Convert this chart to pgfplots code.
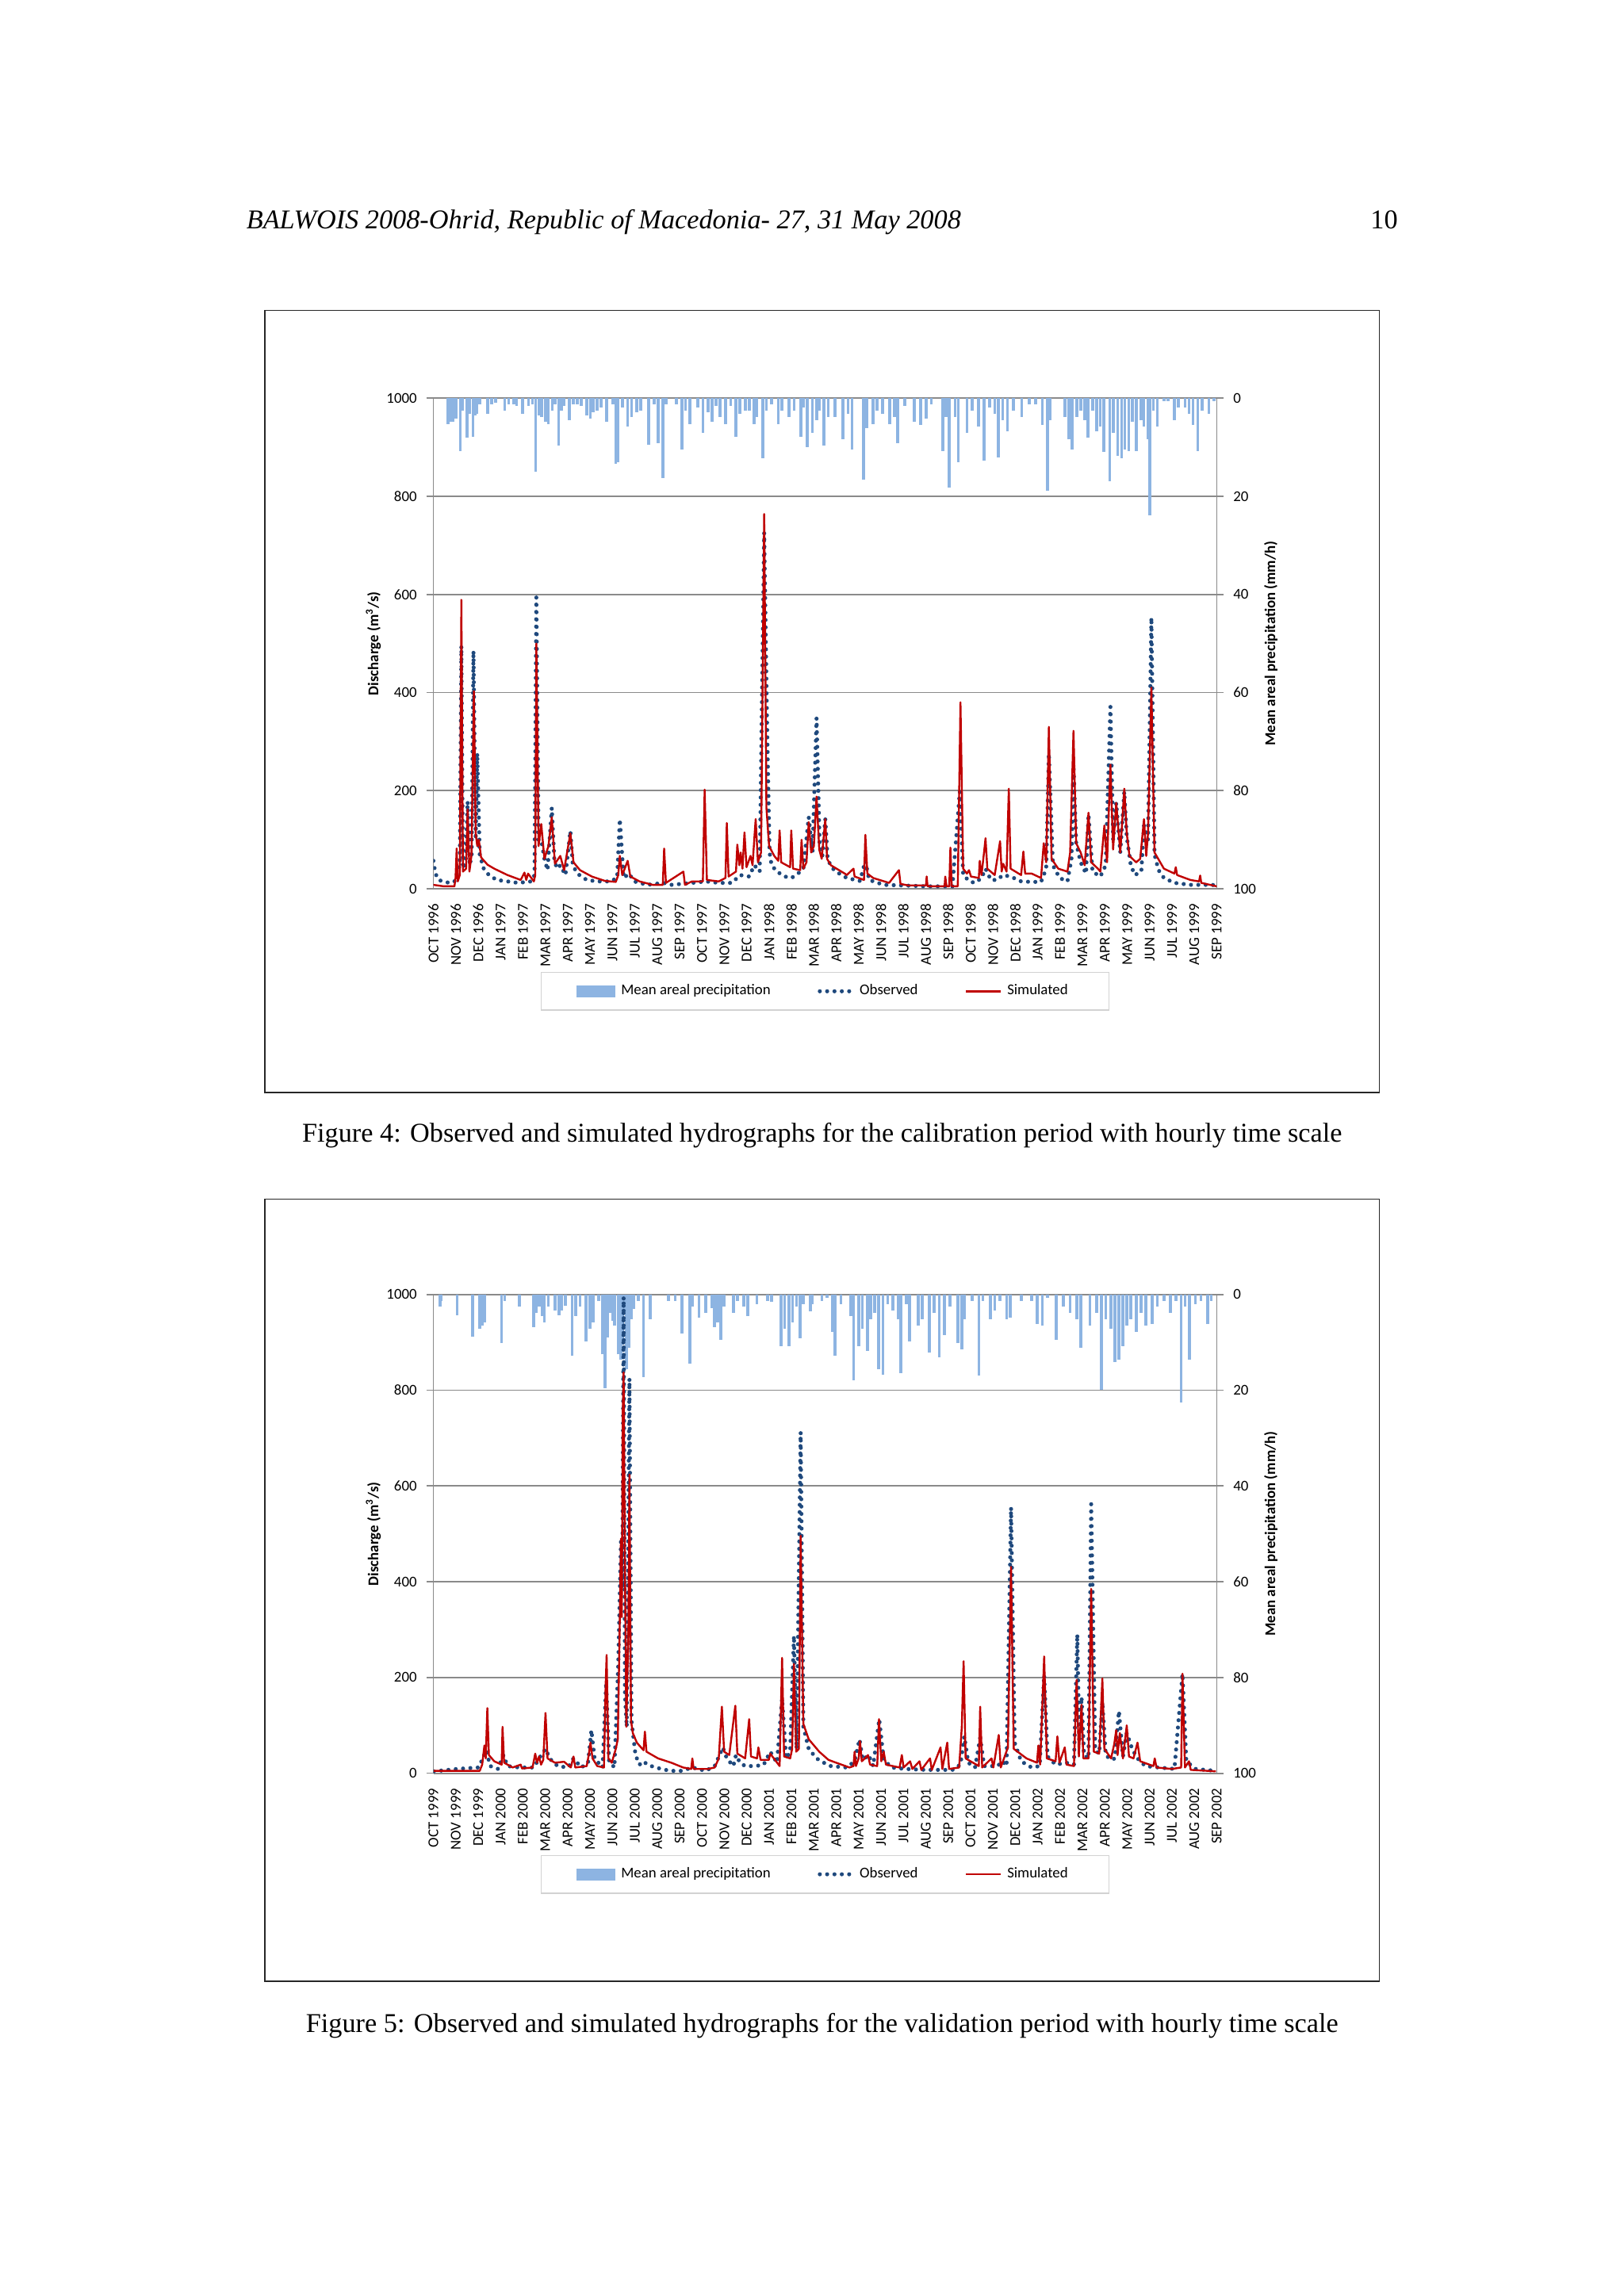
\documentclass[border=0pt]{standalone}
\usepackage{fontspec}
\setmainfont{Liberation Serif}
\newfontfamily\chartfont{Carlito}
\usepackage{pgfplots}
\pgfplotsset{compat=1.18}
\definecolor{precip}{HTML}{8DB4E2}
\definecolor{obs}{HTML}{1F497D}
\definecolor{sim}{HTML}{C00000}
\definecolor{gridc}{HTML}{8A8A8A}
\newcommand\cf{\chartfont\fontsize{5.5}{6.6}\selectfont}
\tikzset{
  obsline/.style={color=obs, line width=1.5pt, dash pattern=on 0pt off 2.7pt, line cap=round},
  simline/.style={color=sim, line width=0.7pt, line join=round},
}
\pgfplotsset{
  hyd/.style={width=101.31mm, scale only axis, xmin=0, xmax=35, anchor=south west,
    axis line style={gridc, line width=0.5pt}, tick style={gridc, line width=0.5pt},
    tick align=outside, major tick length=0.9mm,
    yticklabel style={font=\cf, /pgf/number format/assume math mode=true, /pgf/number format/1000 sep={}},
    ylabel style={font=\cf}},
  precipax/.style={hyd, y dir=reverse, ymin=0, ymax=100, ytick={0,20,...,100},
    axis y line*=right, axis x line=none, xtick=\empty,
    ymajorgrids, major grid style={gridc, line width=0.5pt},
    ylabel={\bfseries Mean areal precipitation (mm/h)},
    ylabel style={at={(axis description cs:1.069,0.5)}, anchor=center}},
  dischax/.style={hyd, ymin=0, ymax=1000, ytick={0,200,...,1000},
    axis y line*=left, axis x line*=bottom, xtick={0,...,35}, xtick style={draw=none},
    xticklabel style={font=\cf, rotate=90, anchor=east, inner xsep=1.0mm, inner ysep=0pt},
    ylabel={\bfseries Discharge (m\textsuperscript{3}/s)},
    ylabel style={at={(axis description cs:-0.0766,0.5)}, anchor=center},
    legend style={anchor=center, draw=gray!35, font=\cf, legend columns=3,
      inner xsep=4.6mm, inner ysep=0.8mm,
      /tikz/every even column/.append style={column sep=5.4mm}},
    legend cell align=left},
}
\begin{document}
\begin{tikzpicture}
\path[fill=white] (0,0) rectangle (210mm,297mm);
% header
\node[anchor=base west, inner sep=0, font=\itshape] at (31.81mm,267.45mm) {BALWOIS 2008-Ohrid, Republic of Macedonia- 27, 31 May 2008};
\node[anchor=base east, inner sep=0] at (180.84mm,267.45mm) {10};
% frames
\draw[line width=0.5pt, black!85] (34.27mm,155.70mm) rectangle (178.38mm,256.85mm);
\draw[line width=0.5pt, black!85] (34.27mm,40.73mm) rectangle (178.38mm,141.87mm);
% captions
\node[anchor=base, inner sep=0] at (106.33mm,149.26mm) {Figure 4: Observed and simulated hydrographs for the calibration period with hourly time scale};
\node[anchor=base, inner sep=0] at (106.33mm,34.10mm) {Figure 5: Observed and simulated hydrographs for the validation period with hourly time scale};

%================ FIGURE 4 ================
\begin{axis}[precipax, at={(56.05mm,182.03mm)}, height=63.45mm]
\addplot[ycomb, draw=precip, line width=1.05pt] coordinates {
(0.65,5.2)(0.77,4.8)(0.89,4.8)(1.00,4.2)(1.20,10.7)(1.30,2.5)(1.51,8.1)(1.63,3.2)(1.77,7.8)(1.87,3.5)(1.95,3.2)(2.07,1.2)(2.42,3.2)(2.60,1.2)(2.77,0.9)(3.19,2.5)(3.36,1.2)(3.60,1.2)(3.72,1.6)(3.99,3.2)(4.25,1.6)(4.43,1.2)(4.57,14.9)(4.72,3.5)(4.84,3.8)(5.02,4.8)(5.14,5.2)(5.31,2.5)(5.43,1.2)(5.60,9.7)(5.73,2.5)(5.84,1.6)(6.08,4.5)(6.26,1.2)(6.43,1.2)(6.61,1.6)(6.85,3.5)(7.02,4.2)(7.14,2.9)(7.32,2.5)(7.50,1.9)(7.73,4.8)(8.03,1.2)(8.15,13.3)(8.26,13.0)(8.44,1.9)(8.68,5.8)(8.85,3.8)(9.09,2.9)(9.27,2.5)(9.62,9.4)(9.86,1.2)(10.04,9.1)(10.25,16.2)(10.39,1.2)(10.86,1.2)(11.10,10.4)(11.27,2.5)(11.45,5.2)(11.81,1.9)(12.04,7.1)(12.28,2.9)(12.46,4.8)(12.63,1.6)(12.81,3.8)(13.05,5.2)(13.28,1.6)(13.52,7.8)(13.70,3.2)(13.93,2.5)(14.11,2.5)(14.34,5.2)(14.46,3.8)(14.72,12.3)(14.88,2.5)(15.11,1.2)(15.41,5.2)(15.58,2.5)(15.88,3.8)(16.12,2.5)(16.41,7.8)(16.53,1.9)(16.71,10.0)(16.94,7.1)(17.12,4.5)(17.24,2.5)(17.45,9.7)
(17.64,3.8)(17.94,3.8)(18.29,8.4)(18.53,3.2)(18.71,10.4)(19.21,16.6)(19.36,6.1)(19.65,5.2)(19.83,2.5)(20.06,3.2)(20.38,5.2)(20.60,3.8)(20.75,9.1)(21.07,1.6)(21.48,4.8)(21.78,5.5)(22.01,4.2)(22.25,1.2)(22.76,10.7)(22.90,3.8)(23.05,18.2)(23.31,3.8)(23.46,13.0)(23.84,7.1)(24.08,2.5)(24.35,5.8)(24.61,12.7)(24.85,1.9)(25.08,3.2)(25.24,12.0)(25.44,4.5)(25.65,6.8)(25.91,2.5)(26.29,3.8)(26.62,1.2)(26.91,1.2)(27.21,5.5)(27.44,18.9)(27.56,4.5)(28.21,3.8)(28.39,8.4)(28.54,10.4)(28.74,3.8)(28.92,2.5)(29.10,4.5)(29.24,8.1)(29.45,2.5)(29.63,6.8)(29.80,5.8)(29.96,11.0)(30.22,16.9)(30.39,7.1)(30.57,11.7)(30.75,12.3)(30.89,10.4)(31.07,10.7)(31.22,4.8)(31.40,10.7)(31.63,4.5)(31.75,5.8)(31.93,8.4)(32.02,23.8)(32.17,2.5)(32.34,5.8)(32.64,0.6)(32.82,0.6)(33.11,4.5)(33.29,1.9)(33.58,1.9)(33.76,3.2)(33.94,5.5)(34.15,10.7)(34.35,2.5)(34.65,3.2)(34.88,0.6)
};
\end{axis}
\begin{axis}[dischax, at={(56.05mm,182.03mm)}, height=63.45mm,
  legend style={at={(0.5,-0.209)}},
  xticklabels={OCT 1996,NOV 1996,DEC 1996,JAN 1997,FEB 1997,MAR 1997,APR 1997,MAY 1997,JUN 1997,JUL 1997,AUG 1997,SEP 1997,OCT 1997,NOV 1997,DEC 1997,JAN 1998,FEB 1998,MAR 1998,APR 1998,MAY 1998,JUN 1998,JUL 1998,AUG 1998,SEP 1998,OCT 1998,NOV 1998,DEC 1998,JAN 1999,FEB 1999,MAR 1999,APR 1999,MAY 1999,JUN 1999,JUL 1999,AUG 1999,SEP 1999}]
\addlegendimage{legend image code/.code={\fill[precip] (0mm,-0.7mm) rectangle (4.9mm,0.7mm);}}
\addlegendentry{Mean areal precipitation}
\addplot[obsline, legend image code/.code={\draw[obsline] (0mm,0mm) -- (4.2mm,0mm);}] coordinates {
(0.00,57)(0.09,31)(0.24,18)(0.47,14)(0.77,12)(0.94,15)(1.09,35)(1.18,48)(1.25,495)(1.32,41)(1.44,54)(1.53,178)(1.62,48)(1.71,67)(1.79,485)(1.89,100)(1.96,276)(2.07,70)(2.24,42)(2.48,28)(2.83,18)(3.31,15)(3.78,12)(4.37,15)(4.52,28)(4.60,594)(4.70,100)(4.82,100)(4.96,61)(5.10,38)(5.29,165)(5.41,54)(5.55,41)(5.67,48)(5.90,28)(6.12,118)(6.23,48)(6.43,31)(6.85,18)(7.32,15)(7.91,15)(8.21,22)(8.33,142)(8.50,22)(8.74,31)(8.97,15)(9.56,8)(10.27,12)(10.62,8)(11.57,12)(12.16,15)(12.75,12)(13.34,12)(13.70,28)(14.11,25)(14.34,48)(14.58,35)(14.78,726)(14.91,332)(15.02,74)(15.11,48)(15.35,35)(15.70,25)(16.00,22)(16.29,31)(16.53,41)(16.77,146)(16.94,74)(17.12,348)(17.26,87)(17.38,67)(17.51,142)(17.61,64)(17.76,45)(17.99,35)(18.47,22)(19.06,16)(19.30,57)(19.47,18)(20.12,8)(20.83,7)(22.01,5)(23.19,5)(23.52,198)(23.67,28)(23.96,15)(24.20,12)(24.49,22)(24.67,41)(24.91,18)(25.20,18)(25.44,28)(25.79,25)(26.26,15)(26.73,14)(27.15,14)(27.38,41)(27.50,276)(27.68,48)(27.98,22)(28.33,15)(28.51,61)(28.60,250)(28.72,93)(28.92,54)(29.16,31)(29.27,152)(29.45,35)(29.80,25)(30.04,48)(30.25,371)(30.37,100)(30.51,175)(30.69,74)(30.87,198)(30.98,106)(31.16,48)(31.34,28)(31.63,35)(31.75,129)(31.93,100)(32.08,553)(32.22,70)(32.40,38)(32.64,22)(33.11,12)(33.82,8)(34.76,8)(35.00,7)
};
\addlegendentry{Observed}
\addplot[simline, legend image code/.code={\draw[simline] (0mm,0mm) -- (4.5mm,0mm);}] coordinates {
(0.00,8)(0.47,5)(0.94,5)(0.99,22)(1.04,82)(1.09,15)(1.18,28)(1.25,589)(1.32,35)(1.46,41)(1.53,162)(1.61,35)(1.70,67)(1.81,403)(1.89,113)(1.96,87)(2.03,100)(2.13,64)(2.42,49)(2.72,41)(3.31,28)(3.90,18)(4.07,33)(4.15,18)(4.23,31)(4.49,15)(4.55,28)(4.60,500)(4.70,87)(4.82,132)(4.96,61)(5.14,87)(5.29,146)(5.43,51)(5.67,67)(5.84,38)(6.12,113)(6.26,54)(6.55,38)(7.08,25)(7.67,16)(8.15,14)(8.26,28)(8.33,67)(8.44,28)(8.68,57)(8.80,25)(9.21,15)(9.80,8)(10.25,8)(10.31,82)(10.39,12)(11.17,35)(11.24,8)(11.55,15)(12.04,15)(12.12,202)(12.22,18)(12.75,15)(13.05,22)(13.11,134)(13.19,25)(13.52,35)(13.58,90)(13.67,48)(13.73,74)(13.81,41)(13.90,115)(13.99,44)(14.17,67)(14.26,48)(14.36,116)(14.40,142)(14.50,54)(14.64,74)(14.78,764)(14.88,165)(15.00,87)(15.23,67)(15.41,57)(15.47,119)(15.54,54)(15.94,44)(15.99,119)(16.07,41)(16.39,38)(16.45,100)(16.53,41)(16.67,54)(16.77,136)(16.88,74)(17.00,87)(17.12,188)(17.24,80)(17.35,61)(17.51,142)(17.59,61)(17.76,48)(18.38,31)(18.47,28)(18.77,41)(18.82,25)(19.24,18)(19.30,110)(19.39,31)(19.65,22)(20.36,12)(20.80,38)(20.87,10)(21.19,7)(22.01,7)(22.04,25)(22.08,5)(22.84,5)(22.87,25)(22.93,5)(23.05,5)(23.10,84)(23.16,5)(23.43,5)(23.55,380)(23.67,41)(23.84,31)(23.93,38)(24.02,25)(24.37,22)(24.41,57)(24.49,28)(24.61,77)(24.67,103)(24.75,41)(25.08,28)(25.32,97)(25.39,35)(25.46,51)(25.61,35)(25.71,204)(25.79,41)(26.26,28)(26.36,76)(26.44,31)(26.73,31)(27.15,22)(27.27,93)(27.38,54)(27.50,330)(27.62,61)(27.92,41)(28.33,35)(28.45,74)(28.60,322)(28.72,93)(28.92,74)(29.10,48)(29.27,155)(29.39,54)(29.69,41)(29.80,35)(29.98,129)(30.10,54)(30.25,253)(30.37,80)(30.51,175)(30.69,74)(30.87,204)(30.98,113)(31.10,67)(31.40,54)(31.58,61)(31.75,142)(31.85,67)(31.93,113)(32.08,410)(32.22,74)(32.64,41)(33.11,31)(33.17,44)(33.23,28)(33.82,18)(34.21,15)(34.26,27)(34.31,12)(35.00,5)
};
\addlegendentry{Simulated}
\end{axis}

%================ FIGURE 5 ================
\begin{axis}[precipax, at={(56.05mm,67.62mm)}, height=61.94mm]
\addplot[ycomb, draw=precip, line width=1.05pt] coordinates {
(0.30,2.6)(0.35,1.3)(1.06,4.3)(1.75,8.8)(2.07,7.2)(2.18,6.5)(2.30,5.9)(3.05,10.1)(3.19,1.3)(3.84,2.6)(4.49,6.9)(4.60,3.9)(4.72,2.6)(4.86,4.6)(4.96,5.9)(5.14,2.6)(5.43,3.3)(5.61,4.3)(5.73,3.3)(5.90,2.3)(6.20,12.8)(6.35,4.6)(6.55,2.6)(6.82,9.8)(6.99,7.2)(7.14,5.9)(7.38,1.3)(7.56,12.4)(7.67,19.6)(7.80,9.0)(7.91,3.9)(8.00,5.5)(8.09,6.5)(8.26,12.4)(8.38,13.7)(8.45,10.5)(8.53,3.9)(8.62,15.7)(8.68,9.0)(8.74,11.1)(8.85,5.2)(8.95,3.0)(9.15,1.3)(9.39,17.3)(9.68,5.2)(10.51,1.3)(10.80,1.3)(11.10,8.2)(11.45,14.4)(11.57,2.6)(11.87,4.9)(12.16,3.9)(12.46,2.9)(12.55,6.9)(12.69,5.9)(12.85,9.5)(12.99,2.6)(13.40,3.9)(13.58,1.3)(13.87,2.6)(14.05,4.6)(14.46,2.0)(14.93,1.3)(15.11,1.6)(15.53,10.8)(15.70,7.2)(15.88,10.8)(16.05,5.9)(16.23,2.6)(16.38,9.2)(16.53,2.0)(16.85,3.6)(16.94,2.0)(17.36,1.3)(17.59,0.7)
(17.82,7.9)(17.94,12.8)(18.21,2.0)(18.65,4.6)(18.77,18.0)(19.00,10.8)(19.16,7.2)(19.39,11.8)(19.53,5.2)(19.71,3.9)(19.89,15.7)(20.09,16.7)(20.30,2.0)(20.54,3.3)(20.77,5.2)(20.89,16.4)(21.13,2.0)(21.28,9.8)(21.66,6.5)(21.84,5.2)(22.15,12.1)(22.37,3.9)(22.60,13.1)(22.84,8.5)(23.08,2.6)(23.43,10.1)(23.61,11.5)(23.72,5.2)(24.08,1.3)(24.37,17.0)(24.55,1.3)(24.88,5.2)(25.08,3.3)(25.32,1.3)(25.61,5.2)(25.77,4.9)(26.26,1.3)(26.74,1.3)(26.97,6.2)(27.21,6.5)(27.44,0.7)(27.83,9.5)(28.15,2.6)(28.45,3.9)(28.74,5.2)(28.92,11.1)(29.33,6.5)(29.63,3.9)(29.84,20.0)(30.04,5.2)(30.28,7.2)(30.45,14.1)(30.63,13.7)(30.81,10.8)(30.98,6.5)(31.16,5.2)(31.40,7.9)(31.63,3.9)(31.84,6.5)(32.11,6.2)(32.34,2.6)(32.64,1.3)(32.93,3.9)(33.17,1.3)(33.41,22.6)(33.58,2.6)(33.78,13.7)(34.05,2.0)(34.29,1.3)(34.59,6.2)(34.76,1.3)
};
\end{axis}
\begin{axis}[dischax, at={(56.05mm,67.62mm)}, height=61.94mm,
  legend style={at={(0.5,-0.211)}},
  xticklabels={OCT 1999,NOV 1999,DEC 1999,JAN 2000,FEB 2000,MAR 2000,APR 2000,MAY 2000,JUN 2000,JUL 2000,AUG 2000,SEP 2000,OCT 2000,NOV 2000,DEC 2000,JAN 2001,FEB 2001,MAR 2001,APR 2001,MAY 2001,JUN 2001,JUL 2001,AUG 2001,SEP 2001,OCT 2001,NOV 2001,DEC 2001,JAN 2002,FEB 2002,MAR 2002,APR 2002,MAY 2002,JUN 2002,JUL 2002,AUG 2002,SEP 2002}]
\addlegendimage{legend image code/.code={\fill[precip] (0mm,-0.7mm) rectangle (4.9mm,0.7mm);}}
\addlegendentry{Mean areal precipitation}
\addplot[obsline, legend image code/.code={\draw[obsline] (0mm,0mm) -- (4.2mm,0mm);}] coordinates {
(0.02,4)(1.06,9)(2.01,12)(2.18,28)(2.36,48)(2.54,15)(2.89,9)(3.13,38)(3.31,15)(3.84,12)(4.49,12)(4.72,31)(5.02,51)(5.19,31)(5.55,15)(6.02,12)(6.26,31)(6.61,12)(6.91,22)(7.06,90)(7.20,31)(7.56,12)(7.72,189)(7.85,25)(8.09,12)(8.26,228)(8.38,483)(8.44,385)(8.50,994)(8.56,162)(8.64,97)(8.76,824)(8.85,110)(9.03,38)(9.21,18)(9.39,25)(9.56,18)(9.92,12)(10.57,5)(11.10,5)(11.57,12)(12.16,5)(12.57,15)(12.93,54)(13.11,31)(13.40,15)(13.52,38)(13.70,22)(13.93,15)(14.40,15)(14.76,18)(15.05,45)(15.35,22)(15.58,156)(15.76,31)(15.94,45)(16.11,287)(16.23,51)(16.41,712)(16.53,97)(16.77,51)(17.12,31)(17.59,18)(17.76,15)(18.47,12)(18.82,25)(19.04,71)(19.18,28)(19.45,38)(19.65,15)(19.92,113)(20.12,28)(20.48,12)(21.07,9)(22.01,7)(23.19,7)(23.55,18)(23.72,77)(23.90,22)(24.20,12)(24.43,74)(24.61,15)(25.20,15)(25.44,25)(25.61,15)(25.81,555)(25.97,64)(26.26,25)(26.73,12)(27.09,15)(27.29,205)(27.44,35)(27.80,18)(28.27,22)(28.62,18)(28.77,290)(28.86,64)(28.96,159)(29.07,38)(29.27,31)(29.39,562)(29.57,48)(29.75,41)(29.89,149)(30.04,38)(30.28,28)(30.45,31)(30.63,130)(30.81,35)(30.98,84)(31.22,51)(31.46,31)(31.81,15)(32.40,12)(33.11,9)(33.47,208)(33.64,25)(34.05,9)(34.96,5)
};
\addlegendentry{Observed}
\addplot[simline, legend image code/.code={\draw[simline] (0mm,0mm) -- (4.5mm,0mm);}] coordinates {
(0.02,5)(0.94,5)(2.07,5)(2.18,18)(2.28,58)(2.34,31)(2.41,136)(2.48,38)(2.72,25)(3.05,18)(3.09,97)(3.16,22)(3.54,12)(3.90,18)(3.96,10)(4.43,12)(4.55,41)(4.63,22)(4.72,35)(4.81,18)(4.91,28)(5.01,126)(5.10,31)(5.43,22)(5.84,24)(6.14,12)(6.26,35)(6.34,12)(6.85,15)(6.94,38)(7.02,64)(7.11,31)(7.32,15)(7.62,12)(7.70,189)(7.74,247)(7.82,31)(7.97,22)(8.15,51)(8.24,71)(8.32,293)(8.38,490)(8.42,326)(8.46,752)(8.50,837)(8.56,424)(8.62,97)(8.71,293)(8.76,624)(8.83,110)(8.91,84)(9.09,64)(9.39,48)(9.45,87)(9.52,45)(10.04,31)(10.63,22)(11.16,12)(11.52,9)(11.57,31)(11.63,9)(12.28,9)(12.57,12)(12.75,31)(12.89,139)(12.99,45)(13.22,38)(13.49,141)(13.58,41)(13.93,31)(14.11,113)(14.19,35)(14.46,31)(14.52,54)(14.62,28)(14.99,28)(15.05,41)(15.47,15)(15.58,241)(15.67,35)(15.94,31)(16.03,51)(16.11,228)(16.21,45)(16.33,51)(16.41,496)(16.53,103)(16.77,71)(17.24,45)(17.65,28)(17.88,24)(18.59,12)(18.77,15)(18.82,45)(18.88,15)(19.00,31)(19.06,67)(19.14,25)(19.42,38)(19.51,18)(19.83,15)(19.91,113)(20.01,25)(20.12,45)(20.22,18)(20.83,12)(20.93,38)(21.01,12)(21.30,25)(21.40,9)(21.72,25)(21.80,7)(22.19,31)(22.27,7)(22.66,54)(22.74,9)(22.96,64)(23.04,9)(23.49,12)(23.61,97)(23.69,234)(23.78,31)(24.37,15)(24.43,139)(24.52,12)(24.94,31)(25.02,12)(25.26,80)(25.35,12)(25.67,54)(25.81,431)(25.93,51)(26.50,31)(26.97,22)(27.03,58)(27.11,18)(27.29,244)(27.41,31)(27.80,25)(27.88,77)(27.97,22)(28.21,54)(28.29,18)(28.62,15)(28.74,195)(28.84,35)(28.96,143)(29.04,31)(29.27,31)(29.39,385)(29.51,45)(29.75,41)(29.89,198)(29.98,51)(30.28,31)(30.42,61)(30.51,90)(30.57,38)(30.67,84)(30.81,31)(30.98,100)(31.08,35)(31.28,31)(31.46,64)(31.58,25)(32.17,15)(32.23,31)(32.31,12)(33.00,9)(33.41,12)(33.47,208)(33.58,12)(33.76,25)(33.84,7)(34.96,4)
};
\addlegendentry{Simulated}
\end{axis}
\pgfresetboundingbox
\path (0,0) rectangle (210mm,297mm);
\end{tikzpicture}
\end{document}
